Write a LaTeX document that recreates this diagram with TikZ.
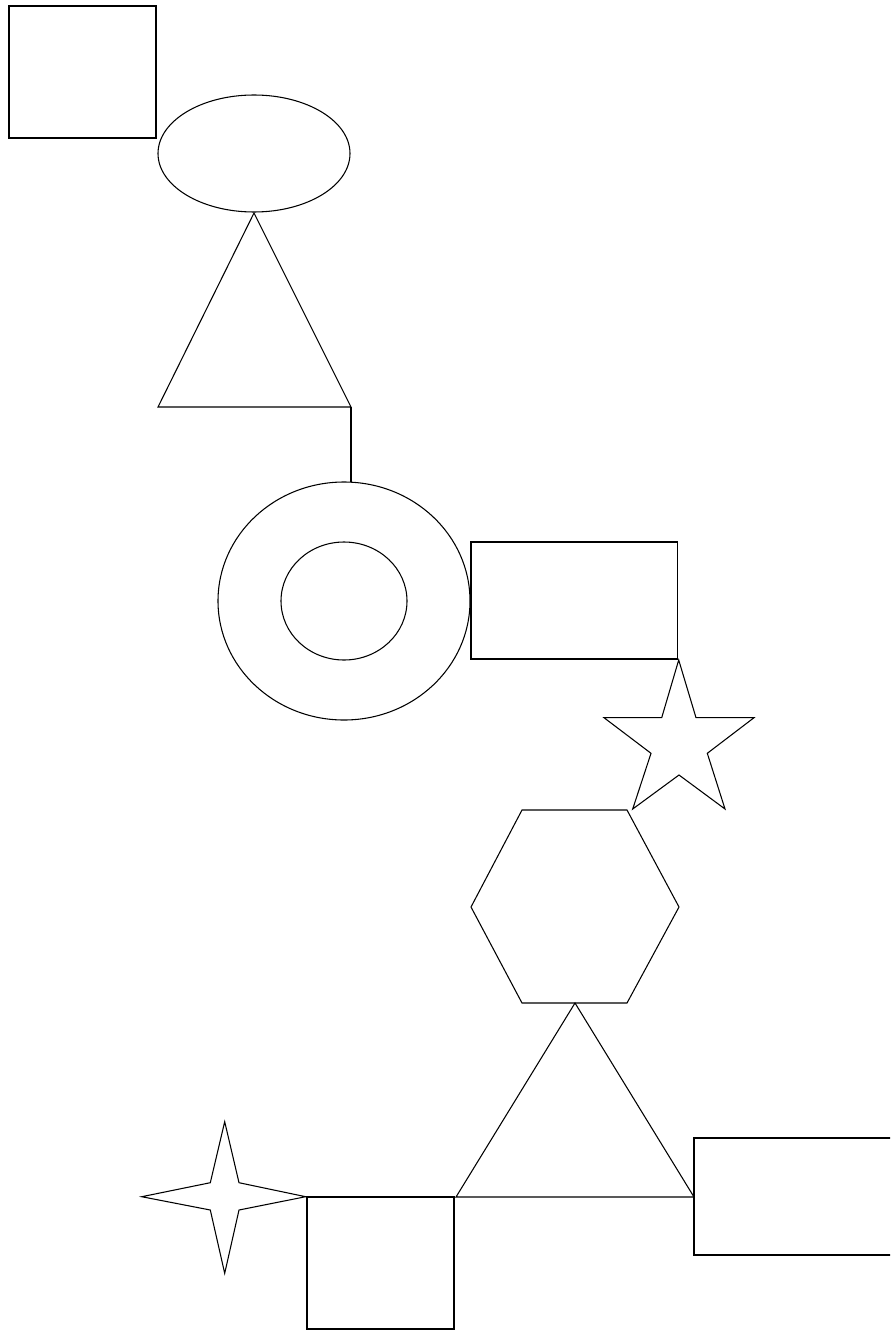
\documentclass[tikz,border=0pt]{standalone}
\usepackage{xcolor}
\usepackage{tikz}
\definecolor{shedge}{RGB}{0,0,0}
\tikzset{
  shp/.style={draw=shedge, line width=0.8pt, line join=miter},
  link/.style={draw=shedge, line width=0.8pt}
}

\begin{document}
\begin{tikzpicture}[x=0.75pt, y=-0.75pt]
  \useasboundingbox (0,0) rectangle (890,1330);
  \begin{scope}
  \clip (0,0) rectangle (890,1330);
  % top column
  \draw[shp] (9,6) rectangle (156,138);
  \draw[shp] (254,153.5) ellipse [x radius=96, y radius=58.5];
  \draw[shp] (254,213) -- (351,407) -- (158,407) -- cycle;
  \coordinate (tribase) at (351,407);
  % ring
  \draw[shp] (344,601) ellipse [x radius=126, y radius=119];
  \draw[shp] (344,601) ellipse [x radius=63, y radius=59];
  \coordinate (ringtop) at (351,482);
  \draw[link] (tribase) -- (ringtop);
  \draw[shp] (471,542) rectangle (677.5,659);
  % five point star
  \draw[shp] (678.7,660) -- (696,717.7) -- (754,717.7) -- (707.3,753.3) -- (725,809)
    -- (679,775) -- (632.7,809) -- (651,753.3) -- (604,717.7) -- (661.7,717.7) -- cycle;
  % hexagon and lower triangle
  \draw[shp] (522,810) -- (627,810) -- (679,907) -- (627,1003) -- (522,1003) -- (471,907) -- cycle;
  \draw[shp] (575,1003) -- (694,1197) -- (456,1197) -- cycle;
  \draw[shp] (694,1138) rectangle (900,1255);
  % bottom left
  \draw[shp] (307,1197) rectangle (454,1329);
  \draw[shp] (224.7,1121.7) -- (239,1182.7) -- (305.7,1196.7) -- (239,1210) -- (224.7,1273.3)
    -- (210.3,1210) -- (141.7,1196.7) -- (210.3,1182.7) -- cycle;
  \end{scope}
\end{tikzpicture}
\end{document}
